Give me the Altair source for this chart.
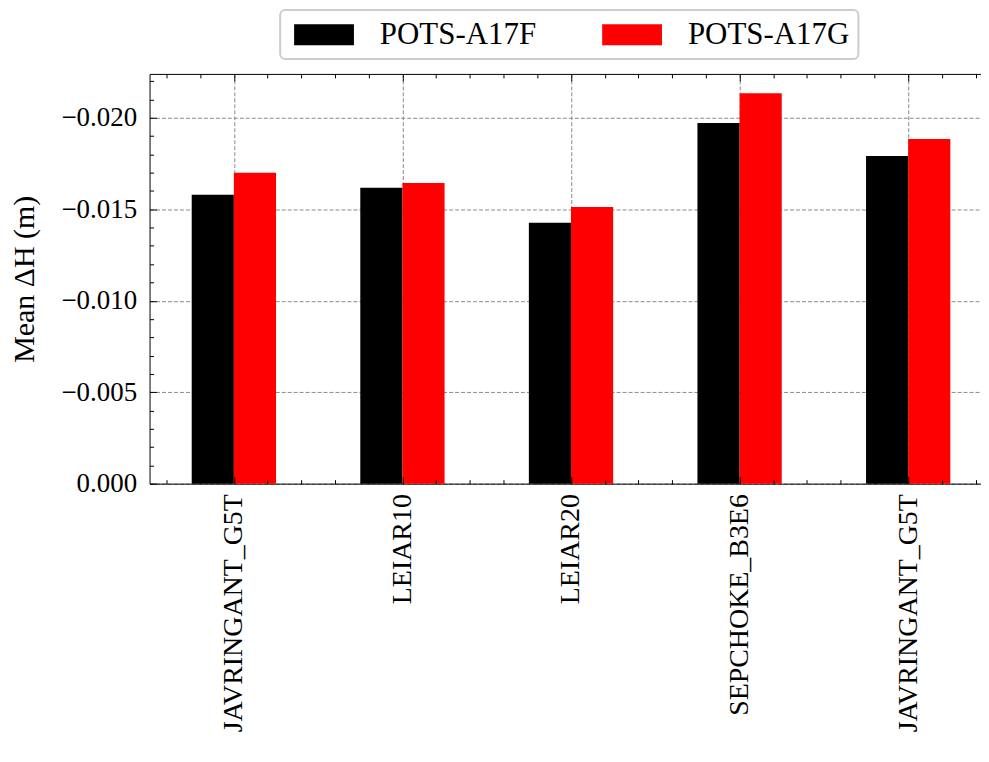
import json
import altair as alt
import pandas as pd

# ---- data ----
antennas = ["JAVRINGANT_G5T", "LEIAR10", "LEIAR20", "SEPCHOKE_B3E6", "JAVRINGANT_G5T"]
series_names = ["POTS-A17F", "POTS-A17G"]
pots_a17f = [-0.0158, -0.01617, -0.01426, -0.01971, -0.01791]
pots_a17g = [-0.0170, -0.01644, -0.01513, -0.02134, -0.01884]
series_colors = ["#000000", "#ff0000"]

y_major = [0.0, -0.005, -0.010, -0.015, -0.020]
y_minor = [round(-k * 0.001, 3) for k in range(0, 23)]
x_major = [0, 1, 2, 3, 4]
x_minor = [round(-0.4 + k * 0.2, 1) for k in range(25)]

rows = []
for s_i, (name, vals) in enumerate(zip(series_names, [pots_a17f, pots_a17g])):
    for i, v in enumerate(vals):
        rows.append({"idx": i, "series": name, "s_i": s_i, "value": v})
df = pd.DataFrame(rows)

BAR_W = 0.25
W, H = 834, 411
FONT = "Liberation Serif"
GRID = "#8a8a8a"

xs = alt.Scale(domain=[-0.5, 4.432], nice=False, zero=False)
ys = alt.Scale(domain=[0.0, -0.0224], nice=False)

label_expr = f"{json.dumps(antennas)}[round(datum.value)]"

base = alt.Chart(df).transform_calculate(
    x0=f"datum.idx + (datum.s_i - 1) * {BAR_W}",
    x1=f"datum.idx + datum.s_i * {BAR_W}",
)

# legend swatch: 60x21 rectangle drawn with a 21px symbol box
swatch_path = "M-1,-1H4.714V1H-1Z"

bars = base.mark_bar().encode(
    x=alt.X("x0:Q", scale=xs, axis=alt.Axis(
        orient="bottom", values=x_major, labelExpr=label_expr, labelAngle=270,
        ticks=False, grid=True, gridDash=[4, 2], gridColor=GRID, gridWidth=1,
        labelPadding=10, labelFlush=False, labelLimit=0, labelFontSize=28,
        title=None, domain=True)),
    x2="x1:Q",
    y=alt.Y("value:Q", scale=ys, axis=alt.Axis(
        orient="left", values=y_major, format=".3f", ticks=False, grid=True,
        gridDash=[4, 2], gridColor=GRID, gridWidth=1, labelPadding=13,
        labelFlush=False, title="Mean ΔH (m)", titlePadding=21, domain=True)),
    y2=alt.datum(0),
    color=alt.Color("series:N", scale=alt.Scale(domain=series_names, range=series_colors),
                    legend=alt.Legend(
                        orient="none", legendX=131, legendY=-64, direction="horizontal",
                        title=None, symbolType=swatch_path, symbolSize=441,
                        symbolStrokeWidth=0, labelFontSize=31, labelFont=FONT,
                        labelLimit=0, labelOffset=60, columnPadding=61, padding=9,
                        strokeColor="#cccccc", cornerRadius=5, fillColor="white")),
)

xtick_size = {"condition": {"test": "abs(datum.value - round(datum.value)) < 0.001", "value": 7}, "value": 4}
ytick_size = {"condition": {"test": "abs(datum.value * 200 - round(datum.value * 200)) < 0.001", "value": 7}, "value": 4}

ticks_top_left = base.mark_point(opacity=0).encode(
    x=alt.X("x0:Q", scale=xs, axis=alt.Axis(
        orient="bottom", offset=-H, values=x_minor, labels=False, ticks=True,
        tickSize=xtick_size, tickColor="black", domain=True, domainColor="black",
        grid=False, title=None, zindex=1)),
    y=alt.Y("value:Q", scale=ys, axis=alt.Axis(
        orient="right", offset=-W, values=y_minor, labels=False, ticks=True,
        tickSize=ytick_size, tickColor="black", domain=False, grid=False,
        title=None, zindex=1)),
)

ticks_bottom = base.mark_point(opacity=0).encode(
    x=alt.X("x0:Q", scale=xs, axis=alt.Axis(
        orient="top", offset=-H, values=x_minor, labels=False, ticks=True,
        tickSize=xtick_size, tickColor="black", domain=False, grid=False,
        title=None, zindex=1)),
    y=alt.Y("value:Q", scale=ys, axis=None),
)

chart = alt.layer(bars, ticks_top_left, ticks_bottom).resolve_axis(
    x="independent", y="independent"
).properties(
    width=W, height=H,
    padding={"left": 2, "top": 0, "right": 0, "bottom": 0},
).configure_axis(
    labelFont=FONT, titleFont=FONT, labelFontSize=27, titleFontSize=30,
    labelColor="black", titleColor="black", titleFontWeight="normal",
    domainColor="black", domainWidth=1, tickColor="black", tickWidth=1,
).configure_legend(
    strokeWidth=2, labelColor="black",
).configure_view(stroke=None)

chart.save("out.html", embed_options={"renderer": "svg", "actions": False})
